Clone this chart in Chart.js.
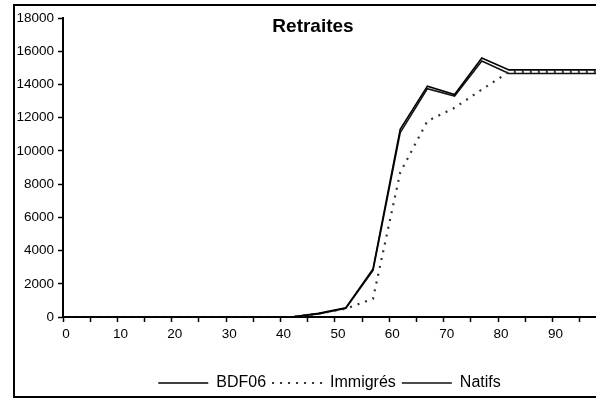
<!DOCTYPE html>
<html>
<head>
<meta charset="utf-8">
<script src="https://cdn.jsdelivr.net/npm/chart.js"></script>
<style>
  html, body { margin: 0; padding: 0; background: #fff; overflow: hidden; }
  #frame {
    position: absolute; left: 13px; top: 4px;
    width: 583px; height: 390px;
    border-left: 2px solid #000; border-top: 2px solid #000; border-bottom: 2px solid #000;
  }
  canvas { display: block; }
</style>
</head>
<body>
<div id="frame"><canvas id="chart" width="581" height="390"></canvas></div>
<script>
// ages (x) and amounts per series
const ages     = [0, 2, 7, 12, 17, 22, 27, 32, 37, 42, 47, 52, 57, 62, 67, 72, 77, 82, 87, 92, 97, 102];
const bdf06    = [0, 0, 0, 0, 0, 0, 0, 0, 0, 0, 220, 560, 2900, 11300, 13900, 13400, 15600, 14880, 14880, 14880, 14880, 14880];
const immigres = [0, 0, 0, 0, 0, 0, 0, 0, 0, 0, 200, 500, 1100, 8700, 11800, 12600, 13700, 14760, 14760, 14760, 14760, 14760];
const natifs   = [0, 0, 0, 0, 0, 0, 0, 0, 0, 0, 190, 520, 2800, 11100, 13750, 13300, 15420, 14660, 14660, 14660, 14660, 14660];
const yTicks   = [0, 2000, 4000, 6000, 8000, 10000, 12000, 14000, 16000, 18000];
const xLabels  = [0, 10, 20, 30, 40, 50, 60, 70, 80, 90];

const toPoints = vals => ages.map((a, i) => ({ x: a, y: vals[i] }));

const titlePlugin = {
  id: "titleInside",
  afterDraw(chart) {
    const ctx = chart.ctx;
    ctx.save();
    ctx.font = "bold 19px 'Liberation Sans', Arial, sans-serif";
    ctx.fillStyle = "#000";
    ctx.textAlign = "center";
    ctx.textBaseline = "middle";
    ctx.fillText("Retraites", 298, 21);
    ctx.restore();
  }
};

const tickFont = { family: "'Liberation Sans', Arial, sans-serif", size: 13.5 };

new Chart(document.getElementById("chart"), {
  type: "line",
  data: {
    datasets: [
      { label: "BDF06", data: toPoints(bdf06), borderColor: "#000", borderWidth: 1.6, pointStyle: "line" },
      { label: "Immigrés", data: toPoints(immigres), borderColor: "#333", borderWidth: 2.2, borderDash: [2, 6], pointStyle: "line" },
      { label: "Natifs", data: toPoints(natifs), borderColor: "#111", borderWidth: 1.6, pointStyle: "line" }
    ]
  },
  options: {
    responsive: false,
    animation: false,
    elements: { point: { radius: 0 }, line: { tension: 0 } },
    layout: { padding: { top: 11, right: 0, left: 0, bottom: -5 } },
    scales: {
      x: {
        type: "linear",
        min: 0,
        max: 98,
        afterBuildTicks: axis => {
          axis.ticks = [];
          for (let v = 0; v <= 95; v += 5) axis.ticks.push({ value: v });
        },
        afterFit: axis => { axis.height = 52; },
        ticks: {
          autoSkip: false,
          maxRotation: 0,
          color: "#000",
          font: tickFont,
          padding: 4,
          labelOffset: 3,
          callback: v => (xLabels.includes(v) ? String(v) : "")
        },
        grid: { drawOnChartArea: false, tickLength: 5, tickWidth: 1.5, tickColor: "#000" },
        border: { color: "#000", width: 2 }
      },
      y: {
        min: 0,
        max: 18000,
        afterBuildTicks: axis => { axis.ticks = yTicks.map(v => ({ value: v })); },
        afterFit: axis => { axis.width = 48; },
        ticks: { color: "#000", font: tickFont, padding: 4, callback: v => String(v) },
        grid: { drawOnChartArea: false, tickLength: 5, tickWidth: 1.5, tickColor: "#000" },
        border: { color: "#000", width: 2 }
      }
    },
    plugins: {
      legend: {
        position: "bottom",
        fullSize: false,
        labels: {
          usePointStyle: true,
          pointStyleWidth: 50,
          boxHeight: 16,
          padding: 6,
          color: "#000",
          font: { family: "'Liberation Sans', Arial, sans-serif", size: 16 },
          generateLabels: chart => {
            const items = Chart.defaults.plugins.legend.labels.generateLabels(chart);
            items.forEach(it => {
              const ds = chart.data.datasets[it.datasetIndex];
              it.lineDash = ds.borderDash || [];
              it.lineWidth = ds.borderWidth;
              it.strokeStyle = ds.borderColor;
            });
            return items;
          }
        }
      },
      tooltip: { enabled: false }
    }
  },
  plugins: [titlePlugin]
});
</script>
</body>
</html>
